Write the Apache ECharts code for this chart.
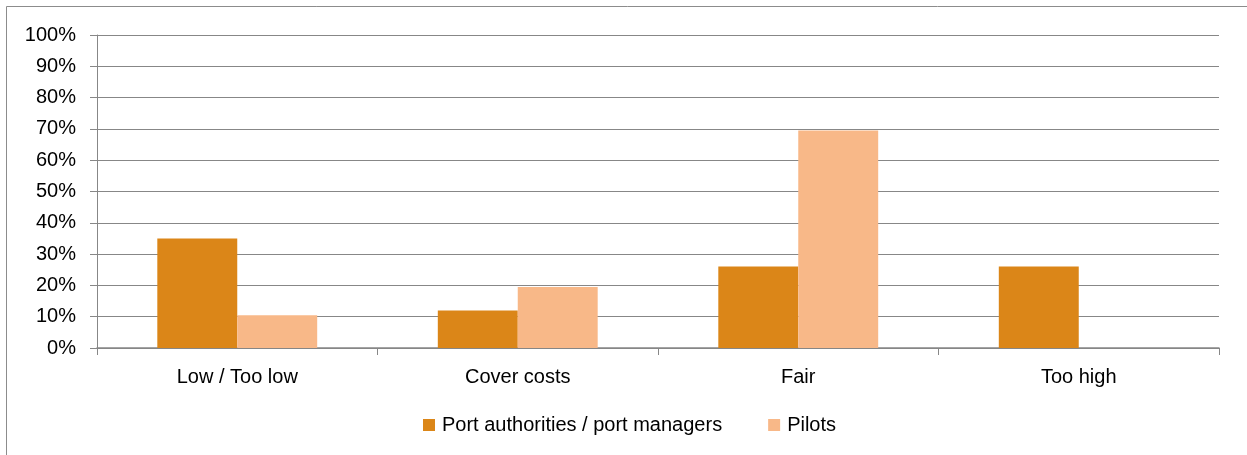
<!DOCTYPE html>
<html>
<head>
<meta charset="utf-8">
<script src="https://cdn.jsdelivr.net/npm/echarts@6/dist/echarts.min.js"></script>
<style>
  html, body { margin: 0; padding: 0; background: #fff; }
  #chart { width: 1247px; height: 455px; }
</style>
</head>
<body>
<div id="chart"></div>
<script>
// Opinion on pilotage tariffs, share of respondents per answer (%)
const categories = ['Low / Too low', 'Cover costs', 'Fair', 'Too high'];
const portAuthorities = [35, 12, 26, 26];
const pilots = [10.5, 19.5, 69.5, 0];
const seriesNames = ['Port authorities / port managers', 'Pilots'];
const yTicks = { min: 0, max: 100, interval: 10 };

const FONT = '"Liberation Sans", Arial, sans-serif';
const GRID_GREY = '#878787';

const chart = echarts.init(document.getElementById('chart'), null, { renderer: 'canvas' });

chart.setOption({
  animation: false,
  backgroundColor: '#ffffff',
  graphic: [{
    type: 'rect',
    shape: { x: 6.5, y: 6.5, width: 1300, height: 500 },
    style: { fill: 'none', stroke: '#8c8c8c', lineWidth: 1 },
    silent: true
  }],
  grid: { left: 97, right: 28, top: 35, bottom: 107, containLabel: false },
  legend: {
    data: seriesNames,
    left: 418,
    top: 409,
    itemWidth: 12,
    itemHeight: 12,
    itemGap: 46,
    icon: 'rect',
    textStyle: { fontFamily: FONT, fontSize: 20, color: '#000', padding: [0, 0, 0, 2], lineHeight: 22 }
  },
  xAxis: {
    type: 'category',
    data: categories,
    axisLine: { lineStyle: { color: GRID_GREY, width: 1.5 } },
    axisTick: { show: true, length: 7, lineStyle: { color: GRID_GREY } },
    axisLabel: { fontFamily: FONT, fontSize: 20, color: '#000', margin: 19 }
  },
  yAxis: {
    type: 'value',
    min: yTicks.min,
    max: yTicks.max,
    interval: yTicks.interval,
    axisLine: { show: true, lineStyle: { color: GRID_GREY } },
    axisTick: { show: true, inside: false, length: 7, lineStyle: { color: GRID_GREY } },
    axisLabel: { fontFamily: FONT, fontSize: 20, color: '#000', margin: 21, formatter: '{value}%' },
    splitLine: { show: true, lineStyle: { color: GRID_GREY, width: 1.2 } }
  },
  series: [
    {
      name: seriesNames[0],
      type: 'bar',
      data: portAuthorities,
      barGap: '0%',
      barCategoryGap: '43%',
      itemStyle: { color: '#DB8618' }
    },
    {
      name: seriesNames[1],
      type: 'bar',
      data: pilots,
      barGap: '0%',
      barCategoryGap: '43%',
      itemStyle: { color: '#F8B888' }
    }
  ]
});
</script>
</body>
</html>
